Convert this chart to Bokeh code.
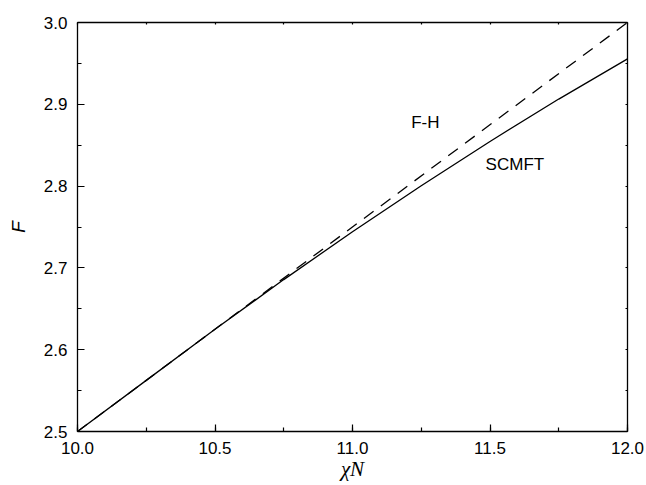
from bokeh.plotting import figure
from bokeh.models import LinearAxis, Range1d, SingleIntervalTicker, NumeralTickFormatter
from bokeh.core.properties import value
from bokeh.embed import file_html
from bokeh.resources import INLINE

# data
chiN = [10.0, 10.25, 10.5, 10.75, 11.0, 11.25, 11.5, 11.75, 12.0]
F_scmft = [2.5, 2.5625, 2.6249, 2.6857, 2.7442, 2.8005, 2.8546, 2.9064, 2.9556]
chiN_fh = [10.0, 12.0]
F_fh = [2.5, 3.0]
labels = ["F-H", "SCMFT"]
label_x = [11.265, 11.484]
label_y = [2.878, 2.8264]

p = figure(width=646, height=485, output_backend="svg", toolbar_location=None,
           x_range=Range1d(10.0, 12.0), y_range=Range1d(2.5, 3.0),
           min_border_left=77, min_border_right=19, min_border_top=22, min_border_bottom=54,
           x_axis_location=None, y_axis_location=None)
p.grid.visible = False
p.outline_line_color = None
p.background_fill_color = "white"
p.border_fill_color = "white"

LAB_FONT = "Liberation Sans"

def style(ax, labels_on, tin, min_in):
    ax.axis_line_color = "black"
    ax.axis_line_width = 1.3
    ax.major_tick_in = tin
    ax.major_tick_out = 0
    ax.minor_tick_in = min_in
    ax.minor_tick_out = 0
    ax.major_tick_line_width = 1.2
    ax.minor_tick_line_width = 1.2
    ax.major_tick_line_color = "black"
    ax.minor_tick_line_color = "black"
    if labels_on:
        ax.major_label_text_font = LAB_FONT
        ax.major_label_text_font_size = "17px"
        ax.major_label_text_color = "black"
        ax.formatter = NumeralTickFormatter(format="0.0")
    else:
        ax.major_label_text_font_size = "0px"
        ax.major_label_text_color = None
        ax.major_label_standoff = 0

xb = LinearAxis(ticker=SingleIntervalTicker(interval=0.5, num_minor_ticks=2))
style(xb, True, 7, 4)
xb.major_label_standoff = 10
xb.axis_label = "χN"
xb.axis_label_text_font = "Liberation Serif"
xb.axis_label_text_font_style = "italic"
xb.axis_label_text_font_size = "21px"
xb.axis_label_text_color = "black"
xb.axis_label_standoff = 0
p.add_layout(xb, "below")

yl = LinearAxis(ticker=SingleIntervalTicker(interval=0.1, num_minor_ticks=2))
style(yl, True, 7, 4)
yl.major_label_standoff = 10
yl.axis_label = "F"
yl.axis_label_text_font = LAB_FONT
yl.axis_label_text_font_style = "italic"
yl.axis_label_text_font_size = "19px"
yl.axis_label_text_color = "black"
yl.axis_label_standoff = 12
p.add_layout(yl, "left")

xt = LinearAxis(ticker=SingleIntervalTicker(interval=0.25, num_minor_ticks=1))
style(xt, False, 2, 0)
p.add_layout(xt, "above")

yr = LinearAxis(ticker=SingleIntervalTicker(interval=0.05, num_minor_ticks=1))
style(yr, False, 2, 0)
p.add_layout(yr, "right")

p.line(chiN, F_scmft, line_color="black", line_width=1.3)
p.line(chiN_fh, F_fh, line_color="black", line_width=1.3, line_dash="12 9")

p.text(x=label_x[:1], y=label_y[:1], text=labels[:1], text_align="center", text_baseline="middle",
       text_font=value(LAB_FONT), text_font_size="17px", text_color="black")
p.text(x=label_x[1:], y=label_y[1:], text=labels[1:], text_align="left", text_baseline="middle",
       text_font=value(LAB_FONT), text_font_size="17px", text_color="black")

open("out.html", "w").write(file_html(p, INLINE))
